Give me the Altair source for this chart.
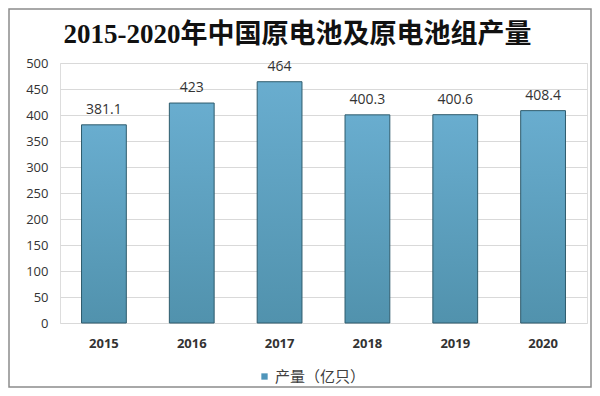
import altair as alt
import pandas as pd

years = ["2015", "2016", "2017", "2018", "2019", "2020"]
output = [381.1, 423, 464, 400.3, 400.6, 408.4]
labels = ["381.1", "423", "464", "400.3", "400.6", "408.4"]
series_name = "产量（亿只）"
title_text = "2015-2020年中国原电池及原电池组产量"

df = pd.DataFrame({"year": years, "value": output, "label": labels, "series": [series_name] * len(years)})

W, H = 527, 260

x_enc = alt.X("year:N", sort=years, title=None,
              scale=alt.Scale(paddingInner=0.49, paddingOuter=0.245),
              axis=alt.Axis(labelAngle=0, labelFont="Open Sans", labelFontSize=13, labelFontWeight="bold",
                            labelColor="#333333", labelPadding=14, ticks=False, domain=False, grid=False))
y_enc = alt.Y("value:Q", title=None,
              scale=alt.Scale(domain=[0, 500], nice=False),
              axis=alt.Axis(values=list(range(0, 501, 50)), labelOverlap=False, labelFont="Open Sans",
                            labelFontSize=13, labelColor="#333333", labelPadding=12, ticks=False,
                            domain=False, grid=True, gridColor="#D9D9D9", gridWidth=1))

base = alt.Chart(df)

bars = base.mark_bar(
    color=alt.LinearGradient(gradient="linear",
                             stops=[alt.GradientStop(color="#69ADCF", offset=0),
                                    alt.GradientStop(color="#5192AD", offset=1)],
                             x1=0, x2=0, y1=0, y2=1),
    stroke="#2E5B6C", strokeWidth=1
).encode(x=x_enc, y=y_enc)

legend_layer = base.mark_bar(opacity=0).encode(
    x=x_enc, y=y_enc,
    color=alt.Color("series:N", scale=alt.Scale(range=["#4F95BA"]),
                    legend=alt.Legend(title=None, orient="none", legendX=197, legendY=306,
                                      symbolType="square", symbolSize=40, symbolOpacity=1,
                                      symbolStrokeWidth=0, labelFont="Noto Sans CJK SC",
                                      labelFontSize=15, labelColor="#404040", labelOffset=3))
)

text = base.mark_text(baseline="bottom", dy=-8, font="Open Sans", fontSize=14, color="#333333").encode(
    x=x_enc, y=y_enc, text="label:N")

border = alt.Chart(alt.Data(values=[{"a": 1}])).mark_rect(
    fill="transparent", stroke="#8C8C8C", strokeWidth=1.5
).encode(x=alt.value(-51), x2=alt.value(531), y=alt.value(-54), y2=alt.value(324))

chart = alt.layer(bars, legend_layer, text, border).properties(
    width=W, height=H,
    title=alt.Title(title_text, font="Liberation Serif, Noto Sans CJK SC", fontSize=27, fontWeight="bold",
                    color="#111111", anchor="middle", dx=-26, offset=-41),
    autosize=alt.AutoSizeParams(type="none"),
    padding={"left": 52, "top": 55, "right": 5, "bottom": 65},
).configure_view(stroke=None).configure(background="white")

chart.save("out.html", embed_options={"renderer": "svg", "actions": False})
